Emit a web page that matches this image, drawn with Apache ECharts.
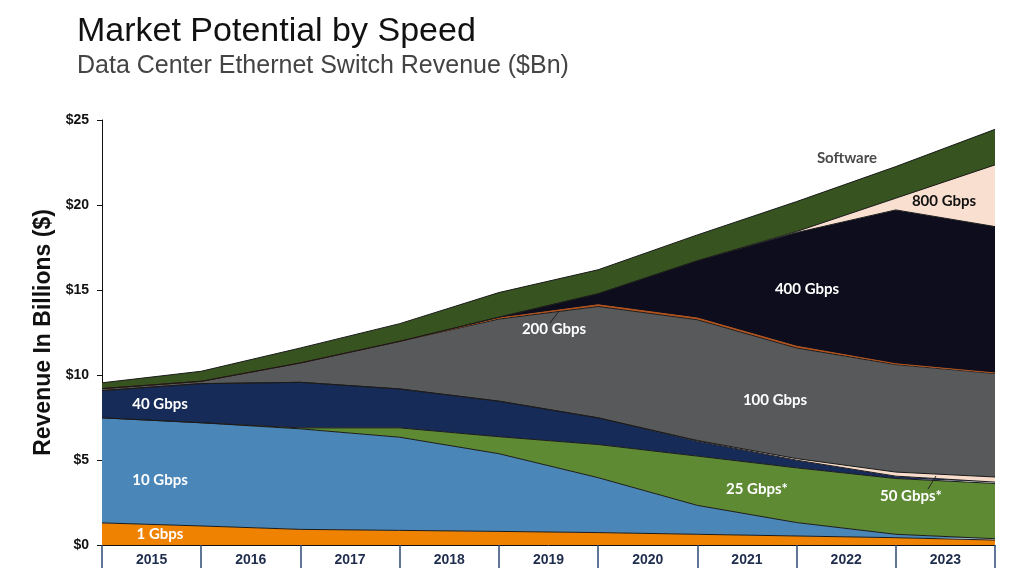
<!DOCTYPE html>
<html>
<head>
<meta charset="utf-8">
<script src="https://cdn.jsdelivr.net/npm/echarts@6/dist/echarts.min.js"></script>
<style>
  html, body { margin: 0; padding: 0; background: #ffffff; }
  #main { width: 1033px; height: 585px; }
</style>
</head>
<body>
<div id="main"></div>
<script type="text/javascript">
    // data points sit on the year boundaries, labels sit between them
    var points = ['2015', '2016', '2017', '2018', '2019', '2020', '2021', '2022', '2023', '2024'];
    var years = ['2015', '2016', '2017', '2018', '2019', '2020', '2021', '2022', '2023'];

    var g1 = [1.30, 1.12, 0.92, 0.86, 0.80, 0.73, 0.63, 0.53, 0.43, 0.29];
    var g10 = [6.18, 6.07, 5.91, 5.48, 4.57, 3.23, 1.70, 0.79, 0.20, 0.08];
    var g25 = [0, 0, 0.06, 0.55, 1.00, 1.95, 2.90, 3.22, 3.28, 3.25];
    var g40 = [1.60, 2.30, 2.68, 2.29, 2.09, 1.57, 0.88, 0.45, 0.14, 0.08];
    var g50 = [0, 0, 0, 0, 0, 0, 0.04, 0.09, 0.24, 0.30];
    var g100 = [0.12, 0.14, 1.14, 2.80, 4.83, 6.55, 7.10, 6.51, 6.32, 6.08];
    var g200 = [0, 0, 0, 0, 0.06, 0.10, 0.10, 0.10, 0.05, 0.04];
    var g400 = [0, 0, 0, 0, 0.05, 0.65, 3.37, 6.69, 9.05, 8.61];
    var g800 = [0, 0, 0, 0, 0, 0, 0, 0.06, 0.69, 3.63];
    var software = [0.34, 0.59, 0.88, 1.04, 1.45, 1.41, 1.52, 1.76, 1.86, 2.09];

    var yTicks = [0, 5, 10, 15, 20, 25];

    var myChart = echarts.init(document.getElementById('main'));

    function area(name, data, fill, line) {
        return {
            name: name,
            type: 'line',
            stack: 'total',
            data: data,
            xAxisIndex: 0,
            showSymbol: false,
            symbol: 'none',
            smooth: false,
            lineStyle: { width: 1, color: line || '#1a1a1a' },
            areaStyle: { color: fill, opacity: 1 },
            emphasis: { disabled: true }
        };
    }

    // series name labels placed over the areas
    var lbl = function (text, x, y, color) {
        return {
            type: 'text', x: x, y: y, z: 100,
            style: {
                text: text, fill: color || '#ffffff',
                font: 'bold 15px Lato, "Open Sans", sans-serif',
                textAlign: 'center', textVerticalAlign: 'middle'
            }
        };
    };

    var option = {
        animation: false,
        backgroundColor: '#ffffff',
        title: [{
            text: 'Market Potential by Speed',
            left: 72,
            top: 10,
            textStyle: { fontFamily: 'Liberation Sans, Arial', fontSize: 34, fontWeight: 'normal', color: '#111111' }
        }, {
            text: 'Data Center Ethernet Switch Revenue ($Bn)',
            left: 72,
            top: 49,
            textStyle: { fontFamily: 'Liberation Sans, Arial', fontSize: 25, fontWeight: 'normal', color: '#444444' }
        }],
        grid: { left: 102, right: 38, top: 120, bottom: 40, containLabel: false },
        xAxis: [{
            type: 'category',
            data: points,
            boundaryGap: false,
            axisLine: { show: true, lineStyle: { color: '#111111', width: 1 } },
            axisTick: { show: false },
            axisLabel: { show: false },
            splitLine: { show: false }
        }, {
            type: 'category',
            data: years,
            boundaryGap: true,
            position: 'bottom',
            axisLine: { show: false },
            axisTick: { show: true, length: 23, lineStyle: { color: '#2c4a74', width: 1.5 } },
            axisLabel: {
                margin: 8,
                color: '#1f2d4d',
                fontFamily: 'Liberation Sans, Arial',
                fontWeight: 'bold',
                fontSize: 14
            },
            splitLine: { show: false }
        }],
        yAxis: {
            type: 'value',
            min: yTicks[0],
            max: yTicks[yTicks.length - 1],
            interval: 5,
            name: 'Revenue In Billions ($)',
            nameLocation: 'middle',
            nameGap: 38,
            nameTextStyle: { fontFamily: 'Liberation Sans, Arial', fontWeight: 'bold', fontSize: 23, color: '#111111' },
            axisLine: { show: true, lineStyle: { color: '#111111', width: 1 } },
            axisTick: { show: true, length: 5, lineStyle: { color: '#111111' } },
            axisLabel: {
                margin: 13,
                color: '#111111',
                fontFamily: 'Liberation Sans, Arial',
                fontWeight: 'bold',
                fontSize: 14,
                formatter: function (v) { return '$' + v; }
            },
            splitLine: { show: false }
        },
        series: [
            area('1 Gbps', g1, '#ef8200'),
            area('10 Gbps', g10, '#4a86b8'),
            area('25 Gbps*', g25, '#5e8a34'),
            area('40 Gbps', g40, '#172b59'),
            area('50 Gbps*', g50, '#f8dccb'),
            area('100 Gbps', g100, '#58595b'),
            area('200 Gbps', g200, '#c0561a', '#b0501a'),
            area('400 Gbps', g400, '#0e0d1d'),
            area('800 Gbps', g800, '#f9dfd0'),
            area('Software', software, '#375320')
        ],
        graphic: [
            lbl('1 Gbps', 160, 534),
            lbl('10 Gbps', 160, 480),
            lbl('40 Gbps', 160, 404),
            lbl('200 Gbps', 554, 329),
            lbl('400 Gbps', 807, 289),
            lbl('100 Gbps', 775, 400),
            lbl('25 Gbps*', 757, 489),
            lbl('50 Gbps*', 911, 496),
            lbl('Software', 847, 158, '#4a4a4a'),
            lbl('800 Gbps', 944, 201, '#111111'),
            { type: 'line', z: 100, shape: { x1: 550, y1: 323, x2: 559, y2: 311 }, style: { stroke: '#222222', lineWidth: 1 } },
            { type: 'line', z: 100, shape: { x1: 928, y1: 489, x2: 936, y2: 476 }, style: { stroke: '#222222', lineWidth: 1 } }
        ]
    };

    myChart.setOption(option);
</script>
</body>
</html>
